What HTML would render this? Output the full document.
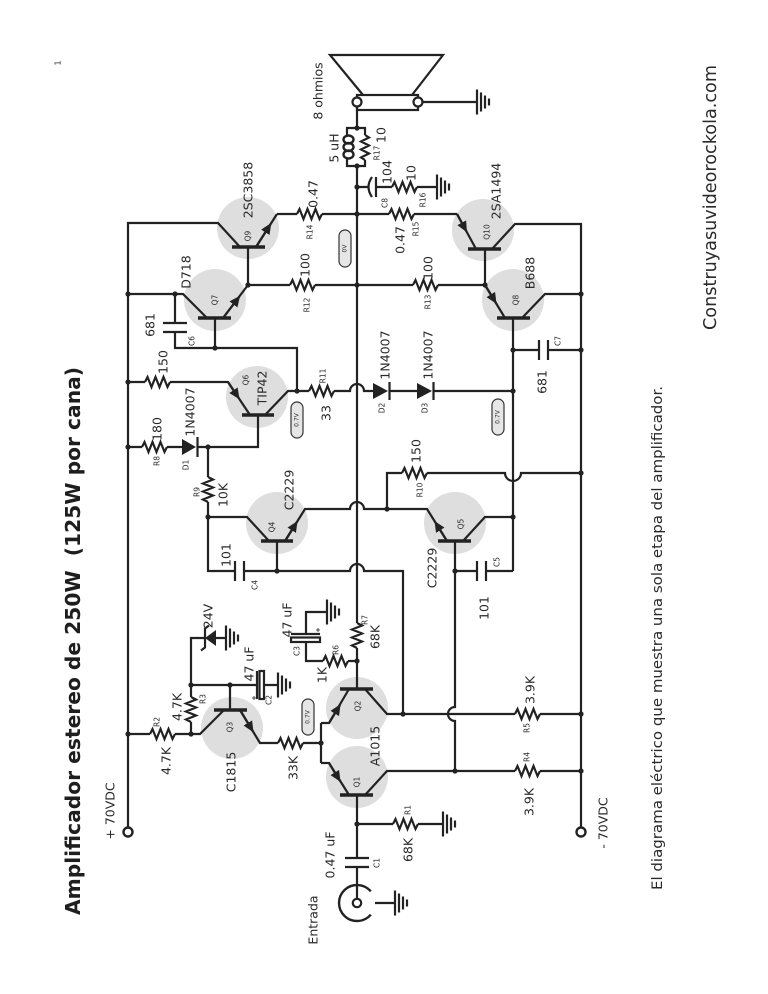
<!DOCTYPE html>
<html>
<head>
<meta charset="utf-8">
<style>
  html,body{margin:0;padding:0;background:#fff;}
  svg{display:block;}
  .w{fill:none;stroke:#222;stroke-width:2.2;stroke-linejoin:miter;}
  .b{fill:none;stroke:#222;stroke-width:3.6;}
  .q{fill:#dedede;stroke:none;}
  .t{font-family:"DejaVu Sans","Liberation Sans",sans-serif;font-size:12.5px;fill:#2a2a2a;text-anchor:middle;dominant-baseline:central;}
  .s{font-size:7.5px;}
  .p{font-size:6px;}
  .dot{fill:#222;}
</style>
</head>
<body>
<svg width="768" height="994" viewBox="0 0 768 994" xmlns="http://www.w3.org/2000/svg">
<defs>
  <marker id="a" markerWidth="11" markerHeight="10" refX="10" refY="5" orient="auto" markerUnits="userSpaceOnUse">
    <path d="M0,0 L11,5 L0,10 z" fill="#222"/>
  </marker>
</defs>

<!-- transistor circles -->
<circle class="q" cx="248" cy="228" r="31"/>
<circle class="q" cx="215" cy="300" r="31"/>
<circle class="q" cx="483" cy="230" r="31"/>
<circle class="q" cx="513" cy="300" r="31"/>
<circle class="q" cx="257" cy="397" r="31"/>
<circle class="q" cx="277" cy="523" r="31"/>
<circle class="q" cx="455" cy="523" r="31"/>
<circle class="q" cx="232" cy="728" r="31"/>
<circle class="q" cx="357" cy="708" r="31"/>
<circle class="q" cx="357" cy="777" r="31"/>

<!-- speaker -->
<path class="w" d="M363 95 L330 55 L443 55 L412 95"/>
<rect x="357" y="95" width="61" height="15" fill="#fff" stroke="#222" stroke-width="2.2"/>
<path class="w" d="M422.5 102 H477"/>
<circle cx="357" cy="102" r="4.5" fill="#fff" stroke="#222" stroke-width="2.2"/>
<circle cx="418" cy="102" r="4.5" fill="#fff" stroke="#222" stroke-width="2.2"/>

<!-- wires -->
<path class="w" d="
M357 106.5 V128
M357 128 H347 V135 M347 159 V166 H357
M357 128 H365 V135 M365 160 V166 H357
M357 166 V623 M357 648 V689
M357 187 H368 M376 187 H392 M417 187 H437
M277 214 H297 M322 214 H389 M414 214 H457
M248 285 H290 M315 285 H413 M438 285 H485
M240 247 L218 223 H128 V828
M256 247 L277 214
M248 247 V285
M207 318 L183 294 H128
M223 318 L248 285
M215 318 V348
M175 294 V323 M175 332 V348 H297 V391
M457 214 L476 249
M492 249 L515 224 H581 V828
M485 249 V285
M485 285 L505 318
M522 318 L545 294 H581
M513 318 V571
M513 350 H539 M548 350 H581
M128 382 H145 M170 382 H228 L250 415
M265 415 L288 391 H309
M334 391 H350 A7 7 0 0 1 364 391 H373
M389 391 H417 M433 391 H513
M128 447 H142 M167 447 H182 M197 447 H258 V415
M208 447 V477 M208 502 V571 H235 M244 571 H350 A7 7 0 0 1 364 571 H403 V714
M269 541 L247 517 H208
M285 541 L305 509 H350 A7 7 0 0 1 364 509 H427 L447 541
M277 541 V571
M463 541 L485 517 H513
M455 541 V707 A7 7 0 0 0 455 721 V771
M455 571 H477 M486 571 H513
M387 509 V473 H402 M427 473 H505 A8 8 0 0 0 521 473 H581
M128 734 H150 M175 734 H200 L224 710
M240 710 L260 743 H278 M303 743 H321
M191 734 V722 M191 697 V685
M191 685 H257 M230 685 V710
M264 685 H278
M191 685 V638 H205 M216 638 H226
M321 723 V763
M321 723 H329 L349 689
M365 689 L387 714 H515 M540 714 H581
M357 661 H348 M323 661 H306 V642 M306 634 V612 H327
M321 763 H329 L349 795
M365 795 L387 771 H515 M540 771 H581
M357 795 V858 M357 867 V899
M357 824 H393 M418 824 H443
M375 903 H395
"/>

<!-- emitter arrows -->
<path class="w" marker-end="url(#a)" d="M256 247 L270.7 223.9"/>
<path class="w" marker-end="url(#a)" d="M223 318 L239.5 296.5"/>
<path class="w" marker-end="url(#a)" d="M457 214 L466.5 231.5"/>
<path class="w" marker-end="url(#a)" d="M485 285 L496 303"/>
<path class="w" marker-end="url(#a)" d="M228 382 L239 398.5"/>
<path class="w" marker-end="url(#a)" d="M285 541 L297 521.8"/>
<path class="w" marker-end="url(#a)" d="M447 541 L435 521.8"/>
<path class="w" marker-end="url(#a)" d="M240 710 L253 731.5"/>
<path class="w" marker-end="url(#a)" d="M329 723 L340 705"/>
<path class="w" marker-end="url(#a)" d="M329 763 L340 781"/>

<!-- transistor bars -->
<path class="b" d="
M232 247 H265
M198 318 H231
M468 249 H501
M497 318 H530
M242 415 H274
M261 541 H293
M438 541 H471
M214 710 H247
M340 689 H373
M340 795 H373
"/>

<!-- resistors -->
<path class="w" d="
M392 187 l2.5 -5 l4 10 l4 -10 l4 10 l4 -10 l4 10 l2.5 -5
M297 214 l2.5 -5 l4 10 l4 -10 l4 10 l4 -10 l4 10 l2.5 -5
M389 214 l2.5 -5 l4 10 l4 -10 l4 10 l4 -10 l4 10 l2.5 -5
M290 285 l2.5 -5 l4 10 l4 -10 l4 10 l4 -10 l4 10 l2.5 -5
M413 285 l2.5 -5 l4 10 l4 -10 l4 10 l4 -10 l4 10 l2.5 -5
M145 382 l2.5 -5 l4 10 l4 -10 l4 10 l4 -10 l4 10 l2.5 -5
M309 391 l2.5 -5 l4 10 l4 -10 l4 10 l4 -10 l4 10 l2.5 -5
M142 447 l2.5 -5 l4 10 l4 -10 l4 10 l4 -10 l4 10 l2.5 -5
M402 473 l2.5 -5 l4 10 l4 -10 l4 10 l4 -10 l4 10 l2.5 -5
M150 734 l2.5 -5 l4 10 l4 -10 l4 10 l4 -10 l4 10 l2.5 -5
M278 743 l2.5 -5 l4 10 l4 -10 l4 10 l4 -10 l4 10 l2.5 -5
M323 661 l2.5 -5 l4 10 l4 -10 l4 10 l4 -10 l4 10 l2.5 -5
M515 714 l2.5 -5 l4 10 l4 -10 l4 10 l4 -10 l4 10 l2.5 -5
M515 771 l2.5 -5 l4 10 l4 -10 l4 10 l4 -10 l4 10 l2.5 -5
M393 824 l2.5 -5 l4 10 l4 -10 l4 10 l4 -10 l4 10 l2.5 -5
M365 135 l4 2.5 l-8 4 l8 4 l-8 4 l8 4 l-8 4 l4 2.5
M208 477 l5 2.5 l-10 4 l10 4 l-10 4 l10 4 l-10 4 l5 2.5
M191 697 l5 2.5 l-10 4 l10 4 l-10 4 l10 4 l-10 4 l5 2.5
M357 623 l5 2.5 l-10 4 l10 4 l-10 4 l10 4 l-10 4 l5 2.5
"/>

<!-- inductor coils -->
<g fill="none" stroke="#222" stroke-width="2.4">
  <ellipse cx="348.5" cy="139.5" rx="5" ry="4"/>
  <ellipse cx="348.5" cy="147" rx="5" ry="4"/>
  <ellipse cx="348.5" cy="154.5" rx="5" ry="4"/>
</g>

<!-- capacitors -->
<path class="w" stroke-width="2.6" d="
M372 177 Q365 187 372 197
M376 177 V197
M163 323 H187 M163 332 H187
M539 340 V360 M548 340 V360
M235 561 V581 M244 561 V581
M477 561 V581 M486 561 V581
M345 858 H369 M345 867 H369
M257 671 V699
M291 634 H320
"/>
<rect x="259.5" y="671" width="4.5" height="28" fill="#fff" stroke="#222" stroke-width="2.2"/>
<rect x="291" y="637.5" width="29" height="4.5" fill="#fff" stroke="#222" stroke-width="2.2"/>
<path d="M254 696 v4 M252 698 h4 M316 630 h4 M318 628 v4" stroke="#222" stroke-width="0.8" fill="none"/>

<!-- diodes -->
<path fill="#222" d="M373 383 L373 399 L388 391 Z M417 383 L417 399 L432 391 Z M182 439 L182 455 L196 447 Z M205 638 L216 630 L216 646 Z"/>
<path class="w" stroke-width="2.6" d="M389.5 382 V400 M433.5 382 V400 M197.5 437 V457 M209 625.5 L205 628.5 V647.5 L201 650.5"/>

<!-- grounds -->
<path class="w" d="
M477 89.5V114.5 M481 92.5V111.5 M485 95.5V108.5 M489 98.5V105.5
M437 174.5V199.5 M441 177.5V196.5 M445 180.5V193.5 M449 183.5V190.5
M226 625.5V650.5 M230 628.5V647.5 M234 631.5V644.5 M238 634.5V641.5
M278 672.5V697.5 M282 675.5V694.5 M286 678.5V691.5 M290 681.5V688.5
M327 599.5V624.5 M331 602.5V621.5 M335 605.5V618.5 M339 608.5V615.5
M443 811.5V836.5 M447 814.5V833.5 M451 817.5V830.5 M455 820.5V827.5
M395 890.5V915.5 M399 893.5V912.5 M403 896.5V909.5 M407 899.5V906.5
"/>

<!-- input jack -->
<path fill="none" stroke="#222" stroke-width="2.4" d="M370.8 891.4 A18 18 0 1 0 370.8 914.6"/>
<circle cx="357" cy="903" r="4.2" fill="#fff" stroke="#222" stroke-width="2.2"/>

<!-- supply terminals -->
<circle cx="128" cy="832" r="4.5" fill="#fff" stroke="#222" stroke-width="2.4"/>
<circle cx="581" cy="832" r="4.5" fill="#fff" stroke="#222" stroke-width="2.4"/>

<!-- junction dots -->
<g class="dot">
<circle cx="128" cy="294" r="2.6"/><circle cx="128" cy="382" r="2.6"/><circle cx="128" cy="447" r="2.6"/><circle cx="128" cy="734" r="2.6"/>
<circle cx="175" cy="294" r="2.6"/><circle cx="248" cy="285" r="2.6"/><circle cx="215" cy="348" r="2.6"/><circle cx="297" cy="391" r="2.6"/>
<circle cx="357" cy="128" r="2.6"/><circle cx="357" cy="166" r="2.6"/><circle cx="357" cy="187" r="2.6"/><circle cx="357" cy="214" r="2.6"/><circle cx="357" cy="285" r="2.6"/>
<circle cx="581" cy="294" r="2.6"/><circle cx="581" cy="350" r="2.6"/><circle cx="513" cy="350" r="2.6"/><circle cx="485" cy="285" r="2.6"/><circle cx="513" cy="391" r="2.6"/>
<circle cx="208" cy="447" r="2.6"/><circle cx="208" cy="517" r="2.6"/><circle cx="277" cy="571" r="2.6"/><circle cx="387" cy="509" r="2.6"/><circle cx="513" cy="517" r="2.6"/>
<circle cx="455" cy="571" r="2.6"/><circle cx="581" cy="473" r="2.6"/><circle cx="403" cy="714" r="2.6"/><circle cx="455" cy="771" r="2.6"/><circle cx="581" cy="714" r="2.6"/><circle cx="581" cy="771" r="2.6"/>
<circle cx="191" cy="734" r="2.6"/><circle cx="191" cy="685" r="2.6"/><circle cx="230" cy="685" r="2.6"/><circle cx="321" cy="743" r="2.6"/><circle cx="357" cy="661" r="2.6"/><circle cx="357" cy="824" r="2.6"/>
</g>

<!-- voltage pills -->
<g fill="#e6e6e6" stroke="#333" stroke-width="1.2">
  <rect x="339" y="230" width="12" height="37" rx="6"/>
  <rect x="291" y="402" width="12" height="36" rx="6"/>
  <rect x="492" y="399" width="12" height="36" rx="6"/>
  <rect x="302" y="699" width="12" height="36" rx="6"/>
</g>
<text class="t p" transform="translate(345 248.5) rotate(-90)">0V</text>
<text class="t p" transform="translate(297 420) rotate(-90)">0.7V</text>
<text class="t p" transform="translate(498 417) rotate(-90)">0.7V</text>
<text class="t p" transform="translate(308 717) rotate(-90)">0.7V</text>

<!-- labels -->
<text class="t" transform="translate(318 91) rotate(-90)">8 ohmios</text>
<text class="t" transform="translate(334 148) rotate(-90)">5 uH</text>
<text class="t s" transform="translate(377 153) rotate(-90)">R17</text>
<text class="t" transform="translate(381 135) rotate(-90)">10</text>
<text class="t" transform="translate(387 172) rotate(-90)">104</text>
<text class="t" transform="translate(411 173) rotate(-90)">10</text>
<text class="t s" transform="translate(385 203) rotate(-90)">C8</text>
<text class="t s" transform="translate(423 200) rotate(-90)">R16</text>
<text class="t" transform="translate(248 190) rotate(-90)">2SC3858</text>
<text class="t" transform="translate(313 194) rotate(-90)">0.47</text>
<text class="t s" transform="translate(310 232) rotate(-90)">R14</text>
<text class="t s" transform="translate(248 236) rotate(-90)">Q9</text>
<text class="t" transform="translate(400 240) rotate(-90)">0.47</text>
<text class="t s" transform="translate(416 229) rotate(-90)">R15</text>
<text class="t" transform="translate(305 265) rotate(-90)">100</text>
<text class="t s" transform="translate(307 305) rotate(-90)">R12</text>
<text class="t" transform="translate(428 268) rotate(-90)">100</text>
<text class="t s" transform="translate(428 302) rotate(-90)">R13</text>
<text class="t" transform="translate(186 272) rotate(-90)">D718</text>
<text class="t s" transform="translate(215 300) rotate(-90)">Q7</text>
<text class="t" transform="translate(150 325) rotate(-90)">681</text>
<text class="t s" transform="translate(192 341) rotate(-90)">C6</text>
<text class="t" transform="translate(496 191) rotate(-90)">2SA1494</text>
<text class="t s" transform="translate(487 232) rotate(-90)">Q10</text>
<text class="t" transform="translate(530 273) rotate(-90)">B688</text>
<text class="t s" transform="translate(516 300) rotate(-90)">Q8</text>
<text class="t s" transform="translate(558 341) rotate(-90)">C7</text>
<text class="t" transform="translate(542 382) rotate(-90)">681</text>
<text class="t" transform="translate(163 362) rotate(-90)">150</text>
<text class="t s" transform="translate(246 380) rotate(-90)">Q6</text>
<text class="t" transform="translate(262 388) rotate(-90)">TIP42</text>
<text class="t s" transform="translate(323 376) rotate(-90)">R11</text>
<text class="t" transform="translate(326 413) rotate(-90)">33</text>
<text class="t" transform="translate(385 355) rotate(-90)">1N4007</text>
<text class="t" transform="translate(428 355) rotate(-90)">1N4007</text>
<text class="t s" transform="translate(382 408) rotate(-90)">D2</text>
<text class="t s" transform="translate(425 408) rotate(-90)">D3</text>
<text class="t" transform="translate(190 412) rotate(-90)">1N4007</text>
<text class="t" transform="translate(157 429) rotate(-90)">180</text>
<text class="t s" transform="translate(157 461) rotate(-90)">R8</text>
<text class="t s" transform="translate(186 465) rotate(-90)">D1</text>
<text class="t s" transform="translate(197 492) rotate(-90)">R9</text>
<text class="t" transform="translate(223 495) rotate(-90)">10K</text>
<text class="t" transform="translate(289 490) rotate(-90)">C2229</text>
<text class="t s" transform="translate(272 527) rotate(-90)">Q4</text>
<text class="t" transform="translate(226 555) rotate(-90)">101</text>
<text class="t s" transform="translate(255 585) rotate(-90)">C4</text>
<text class="t" transform="translate(416 451) rotate(-90)">150</text>
<text class="t s" transform="translate(420 490) rotate(-90)">R10</text>
<text class="t" transform="translate(432 568) rotate(-90)">C2229</text>
<text class="t s" transform="translate(461 524) rotate(-90)">Q5</text>
<text class="t s" transform="translate(497 562) rotate(-90)">C5</text>
<text class="t" transform="translate(484 608) rotate(-90)">101</text>
<text class="t" transform="translate(208 616) rotate(-90)">24V</text>
<text class="t" transform="translate(249 664) rotate(-90)">47 uF</text>
<text class="t s" transform="translate(269 700) rotate(-90)">C2</text>
<text class="t s" transform="translate(203 699) rotate(-90)">R3</text>
<text class="t" transform="translate(177 707) rotate(-90)">4.7K</text>
<text class="t s" transform="translate(157 722) rotate(-90)">R2</text>
<text class="t" transform="translate(166 761) rotate(-90)">4.7K</text>
<text class="t s" transform="translate(230 727) rotate(-90)">Q3</text>
<text class="t" transform="translate(231 772) rotate(-90)">C1815</text>
<text class="t" transform="translate(293 768) rotate(-90)">33K</text>
<text class="t" transform="translate(287 620) rotate(-90)">47 uF</text>
<text class="t s" transform="translate(297 651) rotate(-90)">C3</text>
<text class="t s" transform="translate(336 650) rotate(-90)">R6</text>
<text class="t" transform="translate(322 675) rotate(-90)">1K</text>
<text class="t s" transform="translate(365 620) rotate(-90)">R7</text>
<text class="t" transform="translate(375 637) rotate(-90)">68K</text>
<text class="t s" transform="translate(358 706) rotate(-90)">Q2</text>
<text class="t" transform="translate(375 746) rotate(-90)">A1015</text>
<text class="t s" transform="translate(357 782) rotate(-90)">Q1</text>
<text class="t" transform="translate(530 690) rotate(-90)">3.9K</text>
<text class="t s" transform="translate(527 728) rotate(-90)">R5</text>
<text class="t s" transform="translate(527 757) rotate(-90)">R4</text>
<text class="t" transform="translate(529 802) rotate(-90)">3.9K</text>
<text class="t" transform="translate(110 811) rotate(-90)">+ 70VDC</text>
<text class="t" transform="translate(603 823) rotate(-90)">- 70VDC</text>
<text class="t" transform="translate(330 855) rotate(-90)">0.47 uF</text>
<text class="t s" transform="translate(377 863) rotate(-90)">C1</text>
<text class="t s" transform="translate(408 810) rotate(-90)">R1</text>
<text class="t" transform="translate(408 850) rotate(-90)">68K</text>
<text class="t" transform="translate(313 920) rotate(-90)">Entrada</text>
<text class="t" style="font-size:8px" transform="translate(58 63) rotate(-90)">1</text>

<!-- title and side texts -->
<text transform="translate(80 915) rotate(-90)" style="font-family:'DejaVu Sans','Liberation Sans',sans-serif;font-weight:bold;font-size:20.5px;fill:#1e1e1e;white-space:pre" textLength="548" lengthAdjust="spacingAndGlyphs">Amplificador estereo de 250W  (125W por cana)</text>
<text transform="translate(716 330) rotate(-90)" style="font-family:'DejaVu Sans','Liberation Sans',sans-serif;font-size:17.5px;fill:#2a2a2a" textLength="265" lengthAdjust="spacingAndGlyphs">Construyasuvideorockola.com</text>
<text transform="translate(662 890) rotate(-90)" style="font-family:'DejaVu Sans','Liberation Sans',sans-serif;font-size:14px;fill:#2a2a2a" textLength="504" lengthAdjust="spacingAndGlyphs">El diagrama eléctrico que muestra una sola etapa del amplificador.</text>
</svg>
</body>
</html>
